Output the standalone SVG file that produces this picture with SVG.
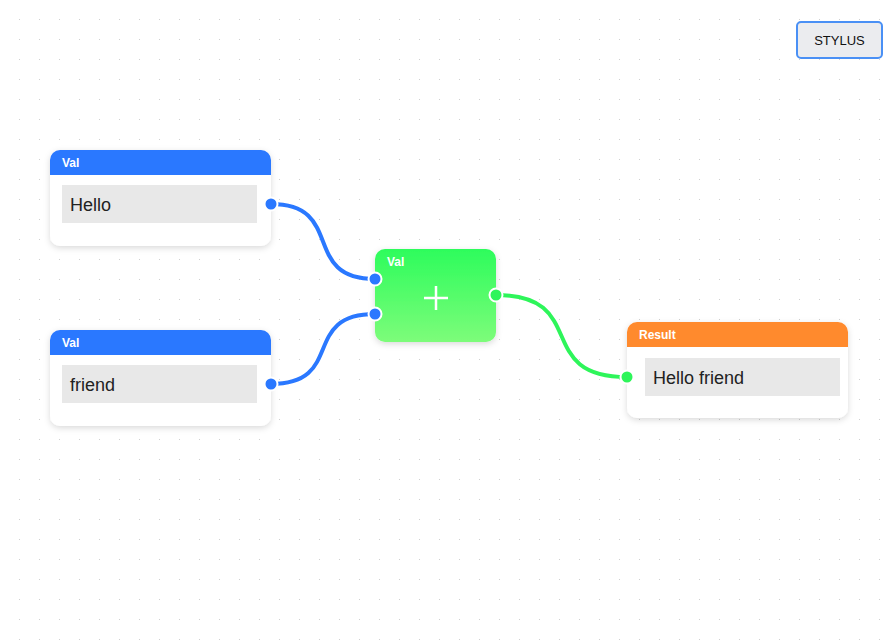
<svg xmlns="http://www.w3.org/2000/svg" width="894" height="640" viewBox="0 0 894 640">
<defs>
<pattern id="dots" x="0" y="0" width="20" height="20" patternUnits="userSpaceOnUse">
<rect x="19" y="19" width="2" height="2" fill="#cfcfcf"/>
</pattern>
<filter id="sh" x="-20%" y="-20%" width="140%" height="150%">
<feDropShadow dx="0" dy="2" stdDeviation="3" flood-color="#000" flood-opacity="0.15"/>
</filter>
<linearGradient id="gg" x1="0" y1="0" x2="0" y2="1">
<stop offset="0" stop-color="#2dfc5c"/>
<stop offset="1" stop-color="#7dfc7a"/>
</linearGradient>
<clipPath id="c1"><rect x="50" y="150" width="221" height="96" rx="10"/></clipPath>
<clipPath id="c2"><rect x="50" y="330" width="221" height="96" rx="10"/></clipPath>
<clipPath id="c4"><rect x="627" y="322" width="221" height="96" rx="10"/></clipPath>
</defs>
<style>
.hdr{font-family:"Liberation Sans",Arial,sans-serif;font-size:12px;font-weight:bold;fill:#fff}
.val{font-family:"Liberation Sans",Arial,sans-serif;font-size:18px;fill:#222}
.box{fill:#e8e8e8}
.body{fill:#fff}
.conn{fill:none;stroke-width:4;stroke-linecap:round}
.port{stroke:#fff;stroke-width:2}
</style>
<rect width="894" height="640" fill="#fff"/>
<rect width="894" height="640" fill="url(#dots)"/>

<g id="connectors">
<path class="conn" stroke="#2a78ff" d="M271,204 C346,204 300,279 375,279"/>
<path class="conn" stroke="#2a78ff" d="M271,384 C346,384 300,314 375,314"/>
<path class="conn" stroke="#2ef55a" d="M496,295 C591,295 532,377 627,377"/>
</g>

<g id="node-hello">
<rect x="50" y="150" width="221" height="96" rx="10" class="body" filter="url(#sh)"/>
<g clip-path="url(#c1)"><rect x="50" y="150" width="221" height="25" fill="#2a78ff"/></g>
<text x="62" y="167" class="hdr">Val</text>
<rect x="62" y="185" width="195" height="38" class="box"/>
<text x="70" y="211" class="val">Hello</text>
<circle cx="271" cy="204" r="6.5" fill="#2a78ff" class="port"/>
</g>

<g id="node-friend">
<rect x="50" y="330" width="221" height="96" rx="10" class="body" filter="url(#sh)"/>
<g clip-path="url(#c2)"><rect x="50" y="330" width="221" height="25" fill="#2a78ff"/></g>
<text x="62" y="347" class="hdr">Val</text>
<rect x="62" y="365" width="195" height="38" class="box"/>
<text x="70" y="391" class="val">friend</text>
<circle cx="271" cy="384" r="6.5" fill="#2a78ff" class="port"/>
</g>

<g id="node-add">
<rect x="375" y="249" width="121" height="93" rx="10" fill="url(#gg)" filter="url(#sh)"/>
<text x="387" y="266" class="hdr">Val</text>
<path d="M436,286 V310 M424,298 H448" stroke="#fff" stroke-width="2.5" fill="none"/>
<circle cx="375" cy="279" r="6.5" fill="#2a78ff" class="port"/>
<circle cx="375" cy="314" r="6.5" fill="#2a78ff" class="port"/>
<circle cx="496" cy="295" r="6.5" fill="#2ef55a" class="port"/>
</g>

<g id="node-result">
<rect x="627" y="322" width="221" height="96" rx="10" class="body" filter="url(#sh)"/>
<g clip-path="url(#c4)"><rect x="627" y="322" width="221" height="25" fill="#ff8a2d"/></g>
<text x="639" y="339" class="hdr">Result</text>
<rect x="645" y="358" width="195" height="38" class="box"/>
<text x="653" y="384" class="val">Hello friend</text>
<circle cx="627" cy="377" r="6.5" fill="#2ef55a" class="port"/>
</g>

<g id="stylus-button">
<rect x="797" y="22" width="85" height="36" rx="4" fill="#ebecef" stroke="#4a90f5" stroke-width="2"/>
<text x="839.5" y="45" text-anchor="middle" font-family="'Liberation Sans',Arial,sans-serif" font-size="13" fill="#111">STYLUS</text>
</g>
</svg>
